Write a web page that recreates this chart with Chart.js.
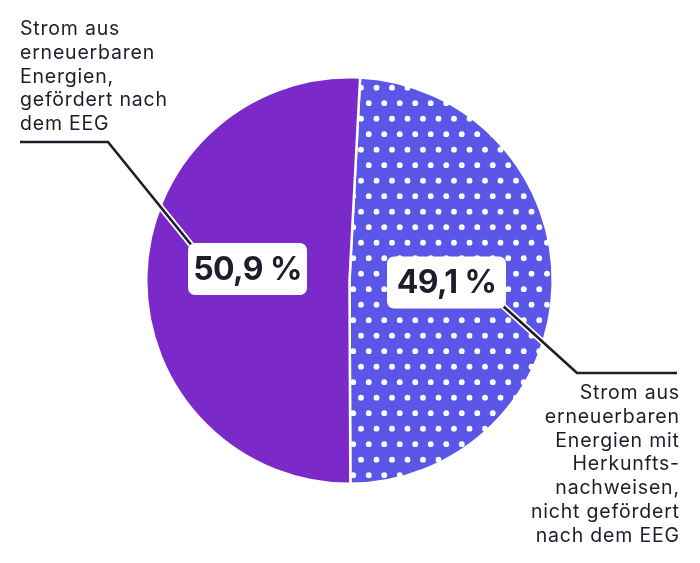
<!DOCTYPE html>
<html lang="de">
<head>
<meta charset="utf-8">
<title>Strom aus erneuerbaren Energien</title>
<script src="https://cdn.jsdelivr.net/npm/chart.js@4.4.1/dist/chart.umd.min.js"></script>
<style>
  html, body { margin: 0; padding: 0; background: #fff; }
  #wrap { position: relative; width: 700px; height: 563px; }
</style>
</head>
<body>
<div id="wrap"><canvas id="pie"></canvas></div>
<script>
(function () {
  'use strict';

  // data
  var categories = [
    ['Strom aus', 'erneuerbaren', 'Energien mit', 'Herkunfts-', 'nachweisen,', 'nicht gefördert', 'nach dem EEG'],
    ['Strom aus', 'erneuerbaren', 'Energien,', 'gefördert nach', 'dem EEG']
  ];
  var shares = [49.1, 50.9];

  var blue = '#5a56e7';
  var purple = '#7b29c8';
  var ink = '#1d1d2c';

  // where each callout sits (box centre, leader line, text block)
  var callouts = [
    { box: [446.5, 282.5], line: [[502, 305], [577, 373], [677, 373]], textX: 679, textY: 399, align: 'right' },
    { box: [247.5, 269], line: [[193, 247], [108, 142], [20, 142]], textX: 20, textY: 35, align: 'left' }
  ];

  function dotPattern(bg) {
    var tile = document.createElement('canvas');
    tile.width = 31;
    tile.height = 31;
    var g = tile.getContext('2d');
    g.fillStyle = bg;
    g.fillRect(0, 0, 31, 31);
    g.fillStyle = '#ffffff';
    [[4.5, 25.7], [20, 25.7], [12.25, 10.2], [27.75, 10.2]].forEach(function (p) {
      g.beginPath();
      g.arc(p[0], p[1], 2.9, 0, Math.PI * 2);
      g.fill();
    });
    return g.createPattern(tile, 'repeat');
  }

  function roundBox(ctx, x, y, w, h, r) {
    ctx.beginPath();
    ctx.moveTo(x + r, y);
    ctx.arcTo(x + w, y, x + w, y + h, r);
    ctx.arcTo(x + w, y + h, x, y + h, r);
    ctx.arcTo(x, y + h, x, y, r);
    ctx.arcTo(x, y, x + w, y, r);
    ctx.closePath();
  }

  var calloutPlugin = {
    id: 'callouts',
    afterDatasetsDraw: function (chart) {
      var ctx = chart.ctx;
      var values = chart.data.datasets[0].data;
      ctx.save();
      callouts.forEach(function (c, i) {
        // leader line with a white halo
        ctx.lineJoin = 'miter';
        ctx.lineCap = 'butt';
        ctx.beginPath();
        ctx.moveTo(c.line[0][0], c.line[0][1]);
        for (var k = 1; k < c.line.length; k++) ctx.lineTo(c.line[k][0], c.line[k][1]);
        ctx.strokeStyle = '#ffffff';
        ctx.lineWidth = 6;
        ctx.stroke();
        ctx.strokeStyle = ink;
        ctx.lineWidth = 2.6;
        ctx.stroke();

        // value box
        var label = values[i].toFixed(1).replace('.', ',') + ' %';
        var bw = 119, bh = 52;
        roundBox(ctx, c.box[0] - bw / 2, c.box[1] - bh / 2, bw, bh, 7);
        ctx.fillStyle = '#ffffff';
        ctx.fill();
        ctx.font = '700 32px Inter, "Open Sans", sans-serif';
        ctx.letterSpacing = '-0.6px';
        ctx.fillStyle = ink;
        ctx.textAlign = 'center';
        ctx.textBaseline = 'middle';
        ctx.fillText(label, c.box[0], c.box[1] + 1);

        // category text
        ctx.font = '400 19.5px Inter, "Open Sans", sans-serif';
        ctx.letterSpacing = '0.8px';
        ctx.textAlign = c.align;
        ctx.textBaseline = 'alphabetic';
        var dx = c.align === 'right' ? 0.8 : 0;
        chart.data.labels[i].forEach(function (line, j) {
          ctx.fillText(line, c.textX + dx, c.textY + j * 23.8);
        });
      });
      ctx.restore();
    }
  };

  new Chart(document.getElementById('pie'), {
    type: 'pie',
    data: {
      labels: categories,
      datasets: [{
        data: shares,
        backgroundColor: [dotPattern(blue), purple],
        borderColor: '#ffffff',
        borderWidth: 2.5
      }]
    },
    options: {
      responsive: true,
      maintainAspectRatio: false,
      animation: false,
      rotation: 3,
      layout: { padding: { left: 0, right: 1, top: 76, bottom: 78 } },
      plugins: {
        legend: { display: false },
        tooltip: { enabled: false }
      }
    },
    plugins: [calloutPlugin]
  });
})();
</script>
</body>
</html>
